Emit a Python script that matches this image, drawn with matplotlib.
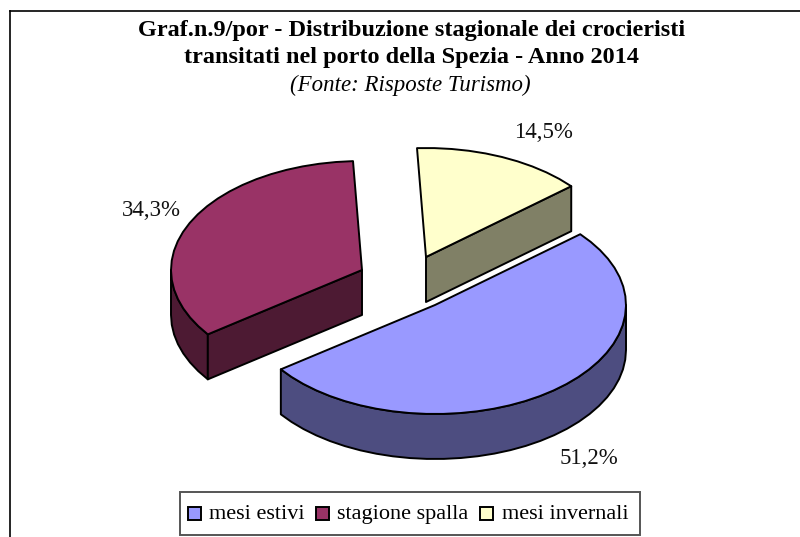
import numpy as np
import matplotlib
matplotlib.use("Agg")
import matplotlib.pyplot as plt
from matplotlib.patches import Polygon, Rectangle

# dati
categorie = ["mesi estivi", "stagione spalla", "mesi invernali"]
valori = [51.2, 34.3, 14.5]
etichette = ["51,2%", "34,3%", "14,5%"]
colori = ["#9999FF", "#993366", "#FFFFCC"]
colori_lato = ["#4D4D80", "#4D1A33", "#808066"]

# posizione delle fette esplose (pixel)
centri = [(435, 305), (362, 270), (426, 257)]
pos_etichette = [(589, 458), (151, 210), (543, 132)]
pos_legenda = [(188, 209), (316, 337), (480, 502)]
A = 191
B = 109
SPESSORE = 45
INIZIO = 40.5

plt.rcParams["font.family"] = ["Liberation Serif", "DejaVu Serif"]

fig = plt.figure(figsize=(8, 5.37), dpi=100)
ax = fig.add_axes([0, 0, 1, 1])
ax.set_xlim(0, 800)
ax.set_ylim(537, 0)
ax.axis("off")


def punto(c, ang, dz=0):
    t = np.radians(ang)
    return [c[0] + A * np.cos(t), c[1] - B * np.sin(t) + dz]


def arco(c, a1, a2, dz=0):
    n = max(2, int(abs(a2 - a1) / 5) + 1)
    return [punto(c, a, dz) for a in np.linspace(a1, a2, n)]


def fetta(c, a1, a2, col, lato):
    # a1 > a2, senso orario
    kw = dict(edgecolor="black", linewidth=1.4, joinstyle="round")
    # parete esterna, solo la parte davanti
    if a1 > 180 or a2 < 0:
        if a1 > 180:
            da, fino = a1, 180
        else:
            da, fino = 0, a2
        pts = arco(c, da, fino) + arco(c, fino, da, SPESSORE)
        ax.add_patch(Polygon(pts, closed=True, facecolor=lato, **kw))
    # pareti del taglio
    if np.cos(np.radians(a1)) < -0.1:
        pts = [c, punto(c, a1), punto(c, a1, SPESSORE), [c[0], c[1] + SPESSORE]]
        ax.add_patch(Polygon(pts, closed=True, facecolor=lato, **kw))
    if np.cos(np.radians(a2)) > 0.1:
        pts = [c, punto(c, a2), punto(c, a2, SPESSORE), [c[0], c[1] + SPESSORE]]
        ax.add_patch(Polygon(pts, closed=True, facecolor=lato, **kw))
    # faccia superiore
    ax.add_patch(Polygon([c] + arco(c, a1, a2), closed=True, facecolor=col, **kw))


# cornice
ax.plot([10, 10], [537, 11], color="black", lw=1.2)
ax.plot([10, 800], [11, 11], color="black", lw=1.2)

# titolo
ax.text(412, 36, "Graf.n.9/por - Distribuzione stagionale dei crocieristi",
        ha="center", va="baseline", fontsize=17.5, fontweight="bold")
ax.text(412, 63, "transitati nel porto della Spezia - Anno 2014",
        ha="center", va="baseline", fontsize=17.5, fontweight="bold")
ax.text(410, 91, "(Fonte: Risposte Turismo)",
        ha="center", va="baseline", fontsize=16.5, fontstyle="italic")

# fette, dalla prima in senso orario
angoli = [INIZIO]
for v in valori:
    angoli.append(angoli[-1] - v * 3.6)
ordine = [2, 1, 0]
for i in ordine:
    a1, a2 = angoli[i], angoli[i + 1]
    if a1 < -90:
        a1, a2 = a1 + 360, a2 + 360
    fetta(centri[i], a1, a2, colori[i], colori_lato[i])

for i, lab in enumerate(etichette):
    ax.text(pos_etichette[i][0], pos_etichette[i][1], lab, ha="center", va="center",
            fontsize=16.5, color="#111111")

# legenda
ax.add_patch(Rectangle((180, 492), 460, 43, facecolor="white", edgecolor="#555555", linewidth=1.4))
for i, nome in enumerate(categorie):
    xq, xt = pos_legenda[i]
    ax.add_patch(Rectangle((xq, 507), 13, 13, facecolor=colori[i], edgecolor="black", linewidth=1.4))
    ax.text(xt, 519, nome, ha="left", va="baseline", fontsize=16)

fig.savefig("out.png", dpi=100)
